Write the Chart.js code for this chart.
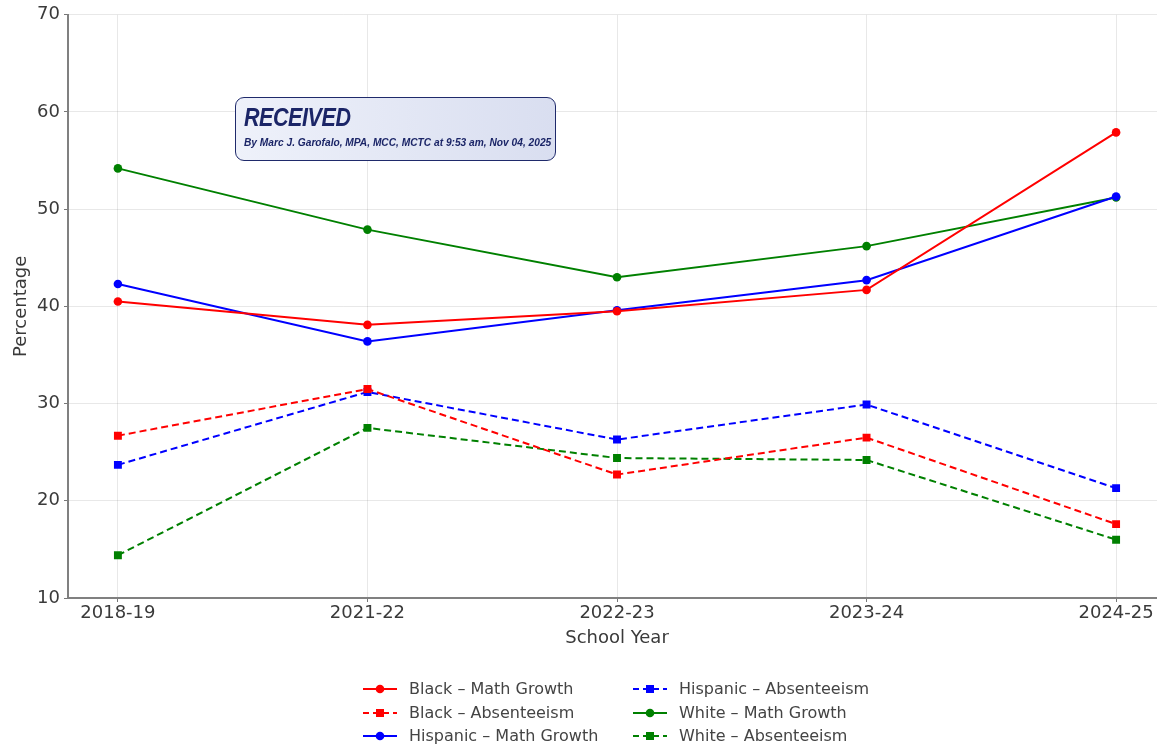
<!DOCTYPE html>
<html>
<head>
<meta charset="utf-8">
<script src="https://cdn.jsdelivr.net/npm/chart.js@4"></script>
<style>
  html, body { margin: 0; padding: 0; background: #fff; overflow: hidden; }
  #wrap { position: relative; width: 1157px; height: 745px; overflow: hidden; }
  #wrap canvas { position: absolute; left: 0; top: 0; }
  .stamp {
    position: absolute; left: 235px; top: 97px; width: 319px; height: 62px;
    border: 1.5px solid #1f2a6b; border-radius: 9px;
    background: linear-gradient(90deg, #eef1fa, #d9def0);
    font-family: "Liberation Sans", Arial, sans-serif; color: #1b2567;
  }
  .stamp .big {
    position: absolute; left: 8px; top: 5px; font-size: 25px; font-weight: bold; font-style: italic;
    letter-spacing: -0.5px; transform: scaleX(0.86); transform-origin: left top;
  }
  .stamp .small { position: absolute; left: 8px; top: 39px; font-size: 10.2px; font-weight: bold; font-style: italic; white-space: nowrap; }
</style>
</head>
<body>
<div id="wrap">
  <canvas id="chart" width="1172" height="745"></canvas>
  <div class="stamp">
    <div class="big">RECEIVED</div>
    <div class="small">By Marc J. Garofalo, MPA, MCC, MCTC at 9:53 am, Nov 04, 2025</div>
  </div>
</div>
<script>
// School years on the x axis
const years = ['2018-19', '2021-22', '2022-23', '2023-24', '2024-25'];

// Values (percent)
const blackMath = [40.5, 38.1, 39.5, 41.7, 57.9];
const blackAbs = [26.7, 31.5, 22.7, 26.5, 17.6];
const hispanicMath = [42.3, 36.4, 39.6, 42.7, 51.3];
const hispanicAbs = [23.7, 31.2, 26.3, 29.9, 21.3];
const whiteMath = [54.2, 47.9, 43.0, 46.2, 51.2];
const whiteAbs = [14.4, 27.5, 24.4, 24.2, 16.0];

const yTicks = [10, 20, 30, 40, 50, 60, 70];

const fontFamily = '"DejaVu Sans", Verdana, sans-serif';
const textColor = '#3a3a3a';

function series(label, values, color, dashed) {
    return {
        label: label,
        data: values.map((v, i) => ({ x: i, y: v })),
        borderColor: color,
        backgroundColor: color,
        borderWidth: 2,
        borderDash: dashed ? [7, 4] : [],
        pointStyle: dashed ? 'rect' : 'circle',
        pointRadius: dashed ? 5.6 : 4.3,
        pointBorderWidth: 0,
        tension: 0
    };
}

const datasets = [
    series('Black – Math Growth', blackMath, '#ff0000', false),
    series('Black – Absenteeism', blackAbs, '#ff0000', true),
    series('Hispanic – Math Growth', hispanicMath, '#0000ff', false),
    series('Hispanic – Absenteeism', hispanicAbs, '#0000ff', true),
    series('White – Math Growth', whiteMath, '#008000', false),
    series('White – Absenteeism', whiteAbs, '#008000', true)
];

// matplotlib-style legend, two columns filled top to bottom
const legendPlugin = {
    id: 'mplLegend',
    afterDraw: (chart) => {
        const ctx = chart.ctx;
        const rows = [689, 713, 736];
        const cols = [363, 633];
        ctx.save();
        ctx.font = '16px ' + fontFamily;
        ctx.textBaseline = 'middle';
        datasets.forEach((ds, i) => {
            const col = Math.floor(i / 3);
            const x = cols[col];
            const y = rows[i % 3];
            ctx.strokeStyle = ds.borderColor;
            ctx.lineWidth = 2;
            ctx.setLineDash(ds.borderDash.length ? [6, 4] : []);
            ctx.beginPath();
            ctx.moveTo(x, y);
            ctx.lineTo(x + 34, y);
            ctx.stroke();
            ctx.setLineDash([]);
            ctx.fillStyle = ds.borderColor;
            if (ds.pointStyle === 'rect') {
                ctx.fillRect(x + 13, y - 4, 8, 8);
            } else {
                ctx.beginPath();
                ctx.arc(x + 17, y, 4.3, 0, Math.PI * 2);
                ctx.fill();
            }
            ctx.fillStyle = '#444';
            ctx.fillText(ds.label, x + 46, y + 1);
        });
        ctx.restore();
    }
};

new Chart(document.getElementById('chart'), {
    type: 'line',
    data: { datasets: datasets },
    options: {
        responsive: false,
        animation: false,
        layout: { padding: { left: 11, top: 14, right: 6, bottom: 96 } },
        plugins: {
            legend: { display: false },
            tooltip: { enabled: false }
        },
        scales: {
            x: {
                type: 'linear',
                min: -0.2,
                max: 4.2,
                afterBuildTicks: (scale) => { scale.ticks = years.map((_, i) => ({ value: i })); },
                afterFit: (scale) => { scale.height = 51; },
                ticks: {
                    callback: (v) => years[v],
                    color: textColor,
                    font: { family: fontFamily, size: 18 },
                    padding: 1,
                    maxRotation: 0,
                    autoSkip: false
                },
                grid: { color: 'rgba(0,0,0,0.09)', tickColor: '#777', tickLength: 4 },
                border: { color: '#808080', width: 2 },
                title: {
                    display: true,
                    text: 'School Year',
                    color: textColor,
                    font: { family: fontFamily, size: 18 },
                    padding: { top: 0, bottom: 0 }
                }
            },
            y: {
                min: 10,
                max: 70,
                afterBuildTicks: (scale) => { scale.ticks = yTicks.map(v => ({ value: v })); },
                afterFit: (scale) => { scale.width = 57; },
                ticks: {
                    color: textColor,
                    font: { family: fontFamily, size: 18 },
                    padding: 4
                },
                grid: { color: 'rgba(0,0,0,0.09)', tickColor: '#777', tickLength: 4 },
                border: { color: '#808080', width: 2 },
                title: {
                    display: true,
                    text: 'Percentage',
                    color: textColor,
                    font: { family: fontFamily, size: 18 },
                    padding: { top: 0, bottom: 0 }
                }
            }
        }
    },
    plugins: [legendPlugin]
});
</script>
</body>
</html>
